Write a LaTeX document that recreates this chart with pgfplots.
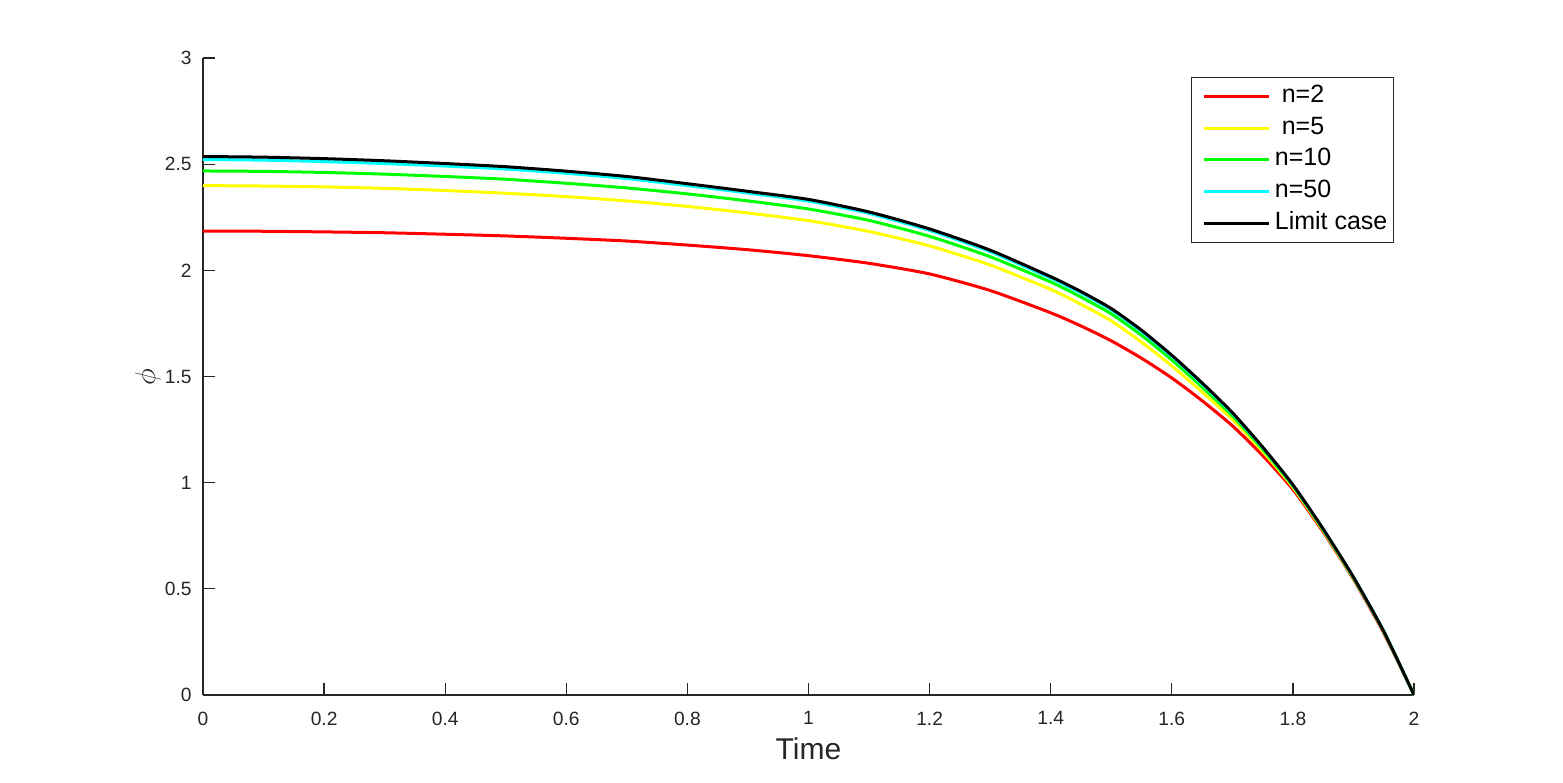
\documentclass[border=0pt]{standalone}
\usepackage{fontspec}
\setmainfont{Liberation Sans}
\usepackage{pgfplots}
\pgfplotsset{compat=1.18}
\definecolor{axgray}{rgb}{0.15,0.15,0.15}
\definecolor{cRed}{rgb}{1,0,0}
\definecolor{cYellow}{rgb}{1,1,0}
\definecolor{cGreen}{rgb}{0,1,0}
\definecolor{cCyan}{rgb}{0,1,1}
\definecolor{cBlack}{rgb}{0,0,0}

\pgfplotstableread{
t v
0 2.185
0.1 2.184
0.2 2.181
0.3 2.177
0.4 2.170
0.5 2.162
0.6 2.151
0.7 2.138
0.8 2.119
0.9 2.097
1.0 2.069
1.1 2.033
1.2 1.983
1.3 1.905
1.4 1.800
1.45 1.738
1.5 1.668
1.55 1.586
1.6 1.493
1.65 1.386
1.7 1.268
1.75 1.128
1.8 0.968
1.85 0.768
1.9 0.545
1.95 0.292
2.0 0
}\nTwo
\pgfplotstableread{
t v
0 2.399
0.1 2.397
0.2 2.393
0.3 2.386
0.4 2.376
0.5 2.363
0.6 2.347
0.7 2.327
0.8 2.301
0.9 2.270
1.0 2.234
1.1 2.183
1.2 2.115
1.3 2.025
1.4 1.910
1.45 1.840
1.5 1.762
1.55 1.662
1.6 1.550
1.65 1.427
1.7 1.298
1.75 1.147
1.8 0.978
1.85 0.774
1.9 0.549
1.95 0.298
2.0 0
}\nFive
\pgfplotstableread{
t v
0 2.468
0.1 2.466
0.2 2.461
0.3 2.453
0.4 2.442
0.5 2.429
0.6 2.410
0.7 2.388
0.8 2.360
0.9 2.327
1.0 2.289
1.1 2.235
1.2 2.160
1.3 2.064
1.4 1.945
1.45 1.874
1.5 1.795
1.55 1.694
1.6 1.578
1.65 1.450
1.7 1.315
1.75 1.158
1.8 0.984
1.85 0.778
1.9 0.552
1.95 0.299
2.0 0
}\nTen
\pgfplotstableread{
t v
0 2.522
0.1 2.519
0.2 2.512
0.3 2.503
0.4 2.491
0.5 2.477
0.6 2.457
0.7 2.432
0.8 2.399
0.9 2.364
1.0 2.326
1.1 2.268
1.2 2.188
1.3 2.088
1.4 1.963
1.45 1.893
1.5 1.814
1.55 1.712
1.6 1.595
1.65 1.465
1.7 1.326
1.75 1.165
1.8 0.988
1.85 0.781
1.9 0.554
1.95 0.300
2.0 0
}\nFifty
\pgfplotstableread{
t v
0 2.536
0.1 2.533
0.2 2.526
0.3 2.516
0.4 2.503
0.5 2.488
0.6 2.467
0.7 2.442
0.8 2.408
0.9 2.372
1.0 2.334
1.1 2.275
1.2 2.195
1.3 2.095
1.4 1.970
1.45 1.900
1.5 1.820
1.55 1.718
1.6 1.600
1.65 1.470
1.7 1.330
1.75 1.168
1.8 0.990
1.85 0.782
1.9 0.555
1.95 0.300
2.0 0
}\limitcase

\begin{document}
\begin{tikzpicture}
\begin{axis}[
  scale only axis, width=605.5pt, height=318.5pt,
  xmin=0, xmax=2, ymin=0, ymax=3,
  axis x line*=bottom, axis y line*=left,
  axis line style={axgray, line width=0.6pt, -},
  tick style={axgray, line width=0.6pt},
  tick align=inside, major tick length=6pt,
  xtick={0,0.2,0.4,0.6,0.8,1,1.2,1.4,1.6,1.8,2},
  ytick={0,0.5,1,1.5,2,2.5,3},
  /pgf/number format/assume math mode=true,
  ticklabel style={font=\fontsize{9.6}{11}\selectfont, text=axgray},
  xticklabel style={yshift=-4.8pt},
  yticklabel style={xshift=-2.2pt},
  xlabel={Time}, ylabel={$\phi$},
  xlabel style={at={(axis description cs:0.5,-0.0848)}, anchor=center, font=\fontsize{15}{18}\selectfont, text=axgray},
  ylabel style={at={(axis description cs:-0.0454,0.499)}, anchor=center, font=\fontsize{14}{16}\selectfont, text=axgray},
  legend style={at={(0.9835,0.9702)}, anchor=north east, draw=axgray, line width=0.6pt, fill=white,
    inner xsep=3pt, inner ysep=4pt, font=\fontsize{12.5}{14}\selectfont,
    row sep=4.85pt, column sep=2pt,
    nodes={inner sep=0pt, text height=8.5pt, text depth=2.5pt}},
  legend cell align=left,
  legend image code/.code={\path (0pt,0pt); \draw[#1,line width=1.5pt] (2.5pt,0pt) -- (35pt,0pt);},
  every axis plot/.append style={smooth, tension=0.4, line width=1.5pt},
]
\addplot[cRed] table[x=t,y=v] {\nTwo};
\addlegendentry{\ n=2}
\addplot[cYellow] table[x=t,y=v] {\nFive};
\addlegendentry{\ n=5}
\addplot[cGreen] table[x=t,y=v] {\nTen};
\addlegendentry{n=10}
\addplot[cCyan] table[x=t,y=v] {\nFifty};
\addlegendentry{n=50}
\addplot[cBlack] table[x=t,y=v] {\limitcase};
\addlegendentry{Limit case}
\end{axis}
\pgfresetboundingbox
\path[use as bounding box] (-101.5pt,-43.5pt) rectangle (680pt,347.5pt);
\end{tikzpicture}
\end{document}
